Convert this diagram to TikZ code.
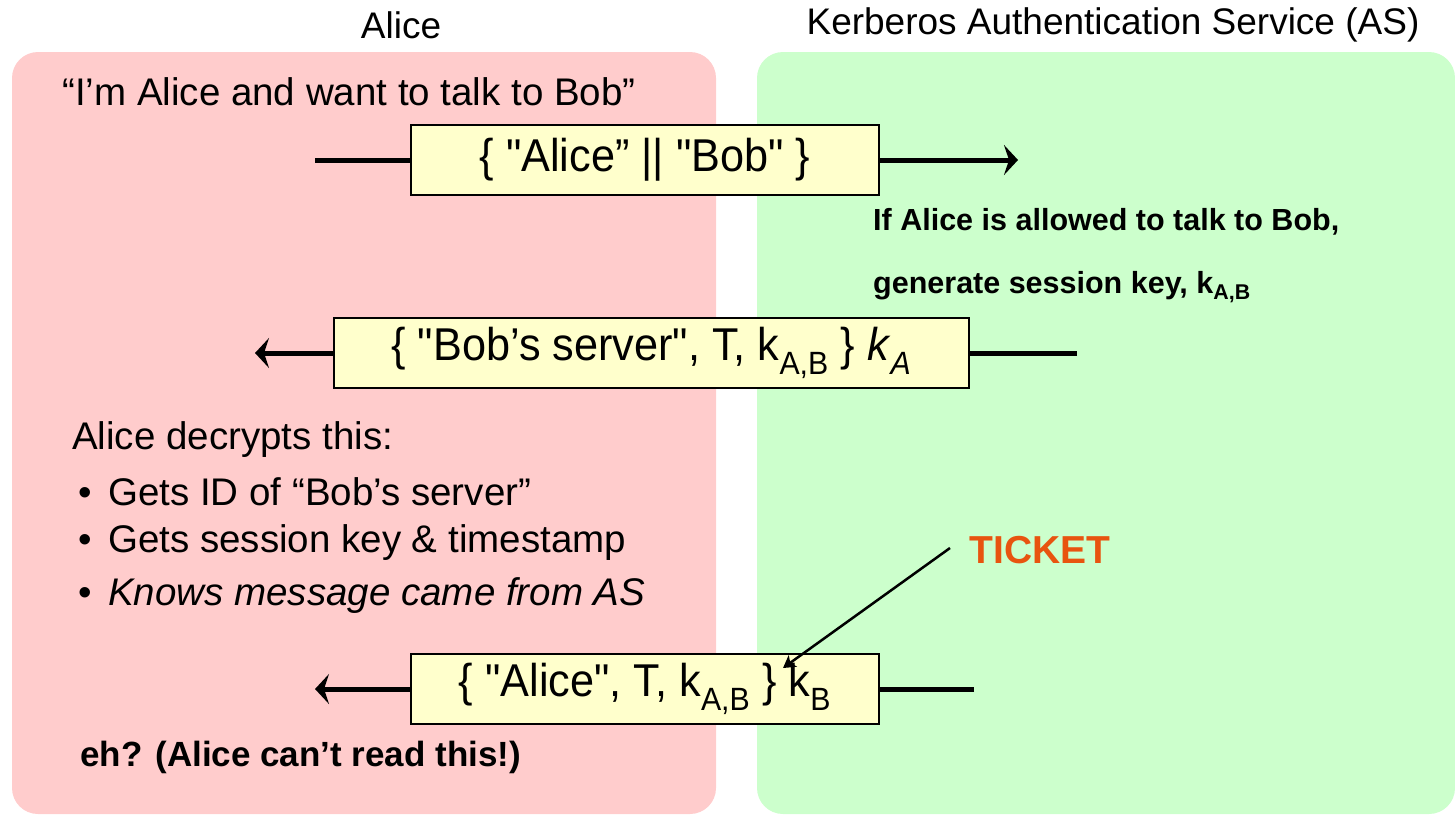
\documentclass[tikz,border=0pt]{standalone}
\usepackage{fontspec}
\setmainfont{Liberation Sans}
\newfontfamily\narrowfont[FakeStretch=0.94]{Liberation Sans}
\usetikzlibrary{arrows.meta,positioning}
\definecolor{alicepink}{HTML}{FFCCCC}
\definecolor{asgreen}{HTML}{CCFFCC}
\definecolor{msgyellow}{HTML}{FFFFCC}
\definecolor{ticketorange}{HTML}{E8540F}

\begin{document}
\begin{tikzpicture}[%
    x=1pt, y=-1pt,                 % work in pixels of the slide, top-down
    >={Stealth[length=14pt, width=30pt, inset=5pt]},
    ]
% -------------------------------------------------
% Styles for panels, messages and text
\tikzset{
  panel/.style={rounded corners=26pt},
  msg/.style={draw, line width=1.6pt, fill=msgyellow, minimum height=70pt,
    inner sep=0pt, font=\narrowfont\fontsize{46}{50}\selectfont},
  wire/.style={line width=5pt},
  head/.style={inner sep=0pt, font=\fontsize{37}{42}\selectfont},
  say/.style={anchor=west, inner sep=0pt, font=\fontsize{38.5}{44}\selectfont},
  note/.style={anchor=west, inner sep=0pt, font=\bfseries\fontsize{30.5}{36}\selectfont},
  item/.style={say, anchor=west},
}
\newcommand\bulletdot{\makebox[30pt][l]{•}}
\useasboundingbox (0,0) rectangle (1455,814);
% -------------------------------------------------
% The two parties
\fill [panel, alicepink] (12,52) rectangle (716,814);
\fill [panel, asgreen] (757,52) rectangle (1455,814);
\node [head] (alice) at (401,25) {Alice};
\node [head] (as) at (1113,25) {Kerberos Authentication Service (AS)};
% -------------------------------------------------
% Request from Alice
\node [say] (want) at (62,92) {“I’m Alice and want to talk to Bob”};
\node [msg, minimum width=468pt] (req) at (645,160) {\{ "Alice” || "Bob" \}};
\coordinate (reqin) at (315,160);
\coordinate (reqout) at (1018,160);
\draw [wire] (reqin) -- (req.west);
\draw [wire, ->] (req.east) -- (reqout);
\node [note] (allow) at (873,222) {If Alice is allowed to talk to Bob,};
\node [note] (gen) at (873,287) {generate session key, k\textsubscript{A,B}};
% -------------------------------------------------
% Reply to Alice
\node [msg, minimum width=635pt] (reply) at (651.5,353)
  {\{ "Bob’s server", T, k\textsubscript{A,B} \} \textit{k}\textsubscript{\textit{A}}};
\coordinate (replyin) at (1077,353);
\coordinate (replyout) at (255,353);
\draw [wire] (replyin) -- (reply.east);
\draw [wire, ->] (reply.west) -- (replyout);
\node [say] (decrypt) at (72,440) {Alice decrypts this:};
\node [item] (b1) at (78,492) {\bulletdot Gets ID of “Bob’s server”};
\node [item] (b2) at (78,543) {\bulletdot Gets session key \& timestamp};
\node [item] (b3) at (78,596) {\bulletdot\textit{Knows message came from AS}};
% -------------------------------------------------
% The ticket
\node [msg, minimum width=468pt] (ticket) at (645,689)
  {\{ "Alice", T, k\textsubscript{A,B} \} k\textsubscript{B}};
\coordinate (ticketin) at (974,689);
\coordinate (ticketout) at (315,689);
\draw [wire] (ticketin) -- (ticket.east);
\draw [wire, ->] (ticket.west) -- (ticketout);
\node [inner sep=0pt, text=ticketorange, font=\bfseries\fontsize{39}{44}\selectfont]
  (tlabel) at (1040,550) {TICKET};
\coordinate (tfrom) at (950,548);
\coordinate (tto) at (783,668);
\draw [line width=2.5pt, -{Stealth[length=12pt, width=14pt, inset=3pt]}] (tfrom) -- (tto);
\node [note, font=\bfseries\fontsize{35}{40}\selectfont] (eh) at (80,757)
  {eh? (Alice can’t read this!)};
\end{tikzpicture}
\end{document}
